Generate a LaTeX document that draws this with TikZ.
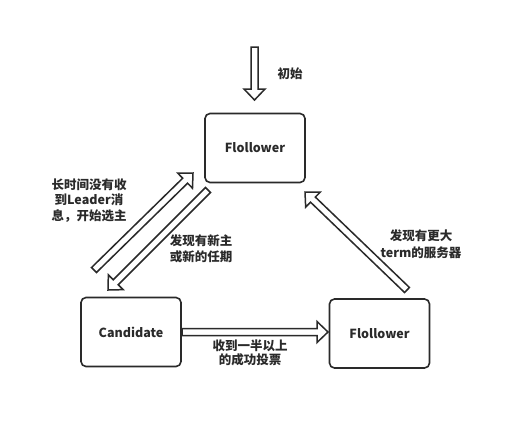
\documentclass[tikz,border=0pt]{standalone}
\usepackage{fontspec}
\setmainfont{Noto Sans CJK SC}
\usetikzlibrary{calc}
\definecolor{lc}{HTML}{2A2A2A}
\newcommand\blockarrow[2]{%
  \coordinate (#1#2b) at ($(#2)!11pt!(#1)$);
  \draw[blk] ($(#1)!3.5pt!90:(#2)$) -- ($(#1#2b)!3.5pt!-90:(#1)$) -- ($(#1#2b)!10.5pt!-90:(#1)$) -- (#2) -- ($(#1#2b)!10.5pt!90:(#1)$) -- ($(#1#2b)!3.5pt!90:(#1)$) -- ($(#1)!3.5pt!-90:(#2)$) -- cycle;}
\begin{document}
\begin{tikzpicture}[x=1pt,y=-1pt,
  box/.style={draw=lc, line width=1.6pt, rounded corners=5pt, minimum width=100pt, minimum height=69pt, inner sep=0pt, font=\fontsize{12.5}{16}\selectfont\bfseries, text=lc},
  lbl/.style={align=center, inner sep=0pt, text=lc},
  blk/.style={draw=lc, line width=1.5pt, line join=miter}]
\useasboundingbox (0,0) rectangle (532,437);
\fill[white] (0,0) rectangle (532,437);
% boxes
\node[box] (top) at (255,148) {Flollower};
\node[box] (cand) at (131,332) {Candidate};
\node[box] (right) at (379.5,333.5) {Flollower};
% arrow ends
\coordinate (a0s) at (254.5,47);
\coordinate (a0e) at (254.5,100);
\coordinate (a1s) at (94,270);
\coordinate (a1e) at (193,173);
\coordinate (a2s) at (208,190);
\coordinate (a2e) at (108,290);
\coordinate (a3s) at (407,290);
\coordinate (a3e) at (305,192);
\coordinate (a4s) at (182,332);
\coordinate (a4e) at (328,332);
\blockarrow{a0s}{a0e}
\blockarrow{a1s}{a1e}
\blockarrow{a2s}{a2e}
\blockarrow{a3s}{a3e}
\blockarrow{a4s}{a4e}
% labels
\node[lbl, font=\fontsize{12.5}{15.5}\selectfont\bfseries] (t0) at (290,74) {初始};
\node[lbl, font=\fontsize{12.5}{15.5}\selectfont\bfseries] (t1) at (89,200.5) {长时间没有收\\到Leader消\\息，开始选主};
\node[lbl, font=\fontsize{12.5}{16.3}\selectfont\bfseries] (t2) at (201,249) {发现有新主\\或新的任期};
\node[lbl, font=\fontsize{12.5}{17.5}\selectfont\bfseries] (t3) at (421,244) {发现有更大\\term的服务器};
\node[lbl, font=\fontsize{12.5}{14}\selectfont\bfseries] (t4) at (250,353) {收到一半以上\\的成功投票};
\end{tikzpicture}
\end{document}
